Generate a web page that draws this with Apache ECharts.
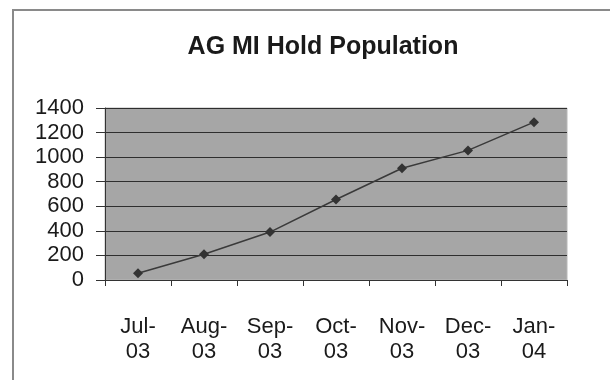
<!DOCTYPE html>
<html>
<head>
<meta charset="utf-8">
<script src="https://cdn.jsdelivr.net/npm/echarts@6/dist/echarts.min.js"></script>
<style>
  html, body { margin: 0; padding: 0; background: #fff; }
  #chart { width: 610px; height: 380px; }
</style>
</head>
<body>
<div id="chart"></div>
<script>
const months = ["Jul-\n03", "Aug-\n03", "Sep-\n03", "Oct-\n03", "Nov-\n03", "Dec-\n03", "Jan-\n04"]
const holdPopulation = [55, 210, 390, 655, 910, 1055, 1285]

const chart = echarts.init(document.getElementById("chart"))

const option = {
  backgroundColor: "#fff",
  animation: false,
  title: {
    text: "AG MI Hold Population",
    left: 318,
    textAlign: "center",
    top: 30,
    textStyle: { fontFamily: "Liberation Sans", fontSize: 25, fontWeight: "bold", color: "#1a1a1a" }
  },
  // outer chart frame, only top and left edges show
  graphic: [{
    type: "rect",
    shape: { x: 13, y: 10, width: 620, height: 400 },
    style: { fill: "none", stroke: "#8a8a8a", lineWidth: 2 },
    silent: true
  }],
  grid: {
    left: 105, right: 43, top: 108, bottom: 100,
    show: true,
    backgroundColor: "#a6a6a6",
    borderColor: "#b8b8b8",
    borderWidth: 1
  },
  xAxis: {
    type: "category",
    data: months,
    boundaryGap: true,
    axisLine: { lineStyle: { color: "#333", width: 1 } },
    axisTick: { show: true, length: 6, lineStyle: { color: "#333" } },
    axisLabel: {
      margin: 34,
      fontFamily: "Liberation Sans",
      fontSize: 22,
      lineHeight: 25,
      color: "#1a1a1a",
      interval: 0
    }
  },
  yAxis: {
    type: "value",
    min: 0,
    max: 1400,
    interval: 200,
    axisLine: { show: true, lineStyle: { color: "#333" } },
    axisTick: { show: true, length: 9, lineStyle: { color: "#333" } },
    splitLine: { lineStyle: { color: "#2e2e2e", width: 1 } },
    axisLabel: {
      margin: 21,
      fontFamily: "Liberation Sans",
      fontSize: 22,
      color: "#1a1a1a",
      formatter: (v) => String(v)
    }
  },
  series: [{
    type: "line",
    data: holdPopulation,
    symbol: "diamond",
    symbolSize: 10,
    lineStyle: { color: "#3a3a3a", width: 1.5 },
    itemStyle: { color: "#333" }
  }]
}

chart.setOption(option)
</script>
</body>
</html>
